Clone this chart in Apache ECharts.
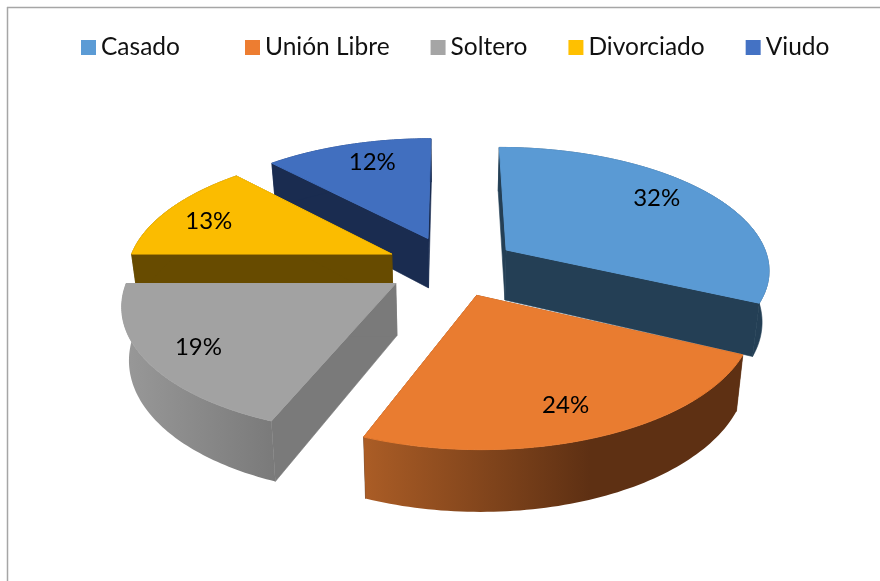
<!DOCTYPE html>
<html>
<head>
<meta charset="utf-8">
<title>Estado civil</title>
<script src="https://cdn.jsdelivr.net/npm/echarts@6/dist/echarts.min.js"></script>
<style>
  html, body { margin: 0; padding: 0; background: #fff; }
  #chart { width: 880px; height: 581px; }
</style>
</head>
<body>
<div id="chart"></div>
<script>
// datos
var categories = ['Casado', 'Unión Libre', 'Soltero', 'Divorciado', 'Viudo'];
var values = [32, 24, 19, 13, 12];

// estilo de cada porción
var legendColors = ['#5B9BD5', '#ED7D31', '#A5A5A5', '#FFC000', '#4472C4'];
var topColors = ['#5A9AD4', '#E97C30', '#A2A2A2', '#FBBC00', '#416FBF'];
var sideColors = ['#243F55', '#5E3013', '#7A7A7A', '#674B00', '#1A2C50'];
var labelRadius = 0.8;
var labelNudge = [[-11, -4], [-5, 0], [-2, 2], [-3, 3], [10, 0]];
var drawOrder = [4, 3, 0, 2, 1];

// proyección en perspectiva del disco
var cx = 451.5, cy = 266, R = 264, Ry = 122, p = 0.147, H = 51, explode = 0.25;
var total = values.reduce(function (a, b) { return a + b; }, 0);

function project(u, v, z) {
  var w = 1 + p * v;
  return [cx + R * u / w * (1 - z * 0.022), cy - Ry * v / w + z * H / w];
}

function sliceAngles(i) {
  var before = 0;
  for (var k = 0; k < i; k++) before += values[k];
  return [before / total * Math.PI * 2, (before + values[i]) / total * Math.PI * 2];
}

function outerFill(i) {
  if (i === 1) {
    return new echarts.graphic.LinearGradient(363, 0, 590, 0, [
      { offset: 0, color: '#AB5D26' },
      { offset: 1, color: '#5E3013' }
    ], true);
  }
  if (i === 2) {
    return new echarts.graphic.LinearGradient(125, 0, 275, 0, [
      { offset: 0, color: '#989898' },
      { offset: 1, color: '#7A7A7A' }
    ], true);
  }
  return sideColors[i];
}

function renderSlice(i) {
  return function (params, api) {
    var a = sliceAngles(i);
    var mid = (a[0] + a[1]) / 2;
    var ox = explode * Math.sin(mid), oy = explode * Math.cos(mid);
    var topArc = [], bottomArc = [];
    var steps = 72;
    for (var s = 0; s <= steps; s++) {
      var t = a[0] + (a[1] - a[0]) * s / steps;
      topArc.push(project(ox + Math.sin(t), oy + Math.cos(t), 0));
      bottomArc.push(project(ox + Math.sin(t), oy + Math.cos(t), 1));
    }
    var apexTop = project(ox, oy, 0), apexBottom = project(ox, oy, 1);
    var lp = project(ox + labelRadius * Math.sin(mid), oy + labelRadius * Math.cos(mid), 0);

    function poly(points, fill, seam) {
      return {
        type: 'polygon',
        shape: { points: points },
        style: { fill: fill, stroke: seam ? fill : null, lineWidth: seam || 0 }
      };
    }
    return {
      type: 'group',
      children: [
        poly([apexTop, topArc[0], bottomArc[0], apexBottom], sideColors[i], 0.6),
        poly([apexTop, topArc[steps], bottomArc[steps], apexBottom], sideColors[i], 0.6),
        poly(topArc.concat(bottomArc.slice().reverse()), outerFill(i), (i !== 1 && i !== 2) ? 0.6 : 0),
        poly([apexTop].concat(topArc), topColors[i], 1),
        {
          type: 'text',
          style: {
            x: lp[0] + labelNudge[i][0], y: lp[1] + labelNudge[i][1],
            text: Math.round(api.value(0) / total * 100) + '%',
            fill: '#000',
            font: '24px Lato',
            align: 'center',
            verticalAlign: 'middle'
          }
        }
      ]
    };
  };
}

function legendAt(left, names) {
  return {
    data: names,
    left: left,
    top: 30,
    icon: 'rect',
    itemWidth: 15,
    itemHeight: 15,
    itemGap: 41,
    selectedMode: false,
    textStyle: { color: '#111', fontFamily: 'Lato', fontSize: 24.5 }
  };
}

var chart = echarts.init(document.getElementById('chart'), null, { renderer: 'canvas' });

chart.setOption({
  animation: false,
  backgroundColor: '#fff',
  legend: [legendAt(76, categories.slice(0, 1)), legendAt(240, categories.slice(1))],
  graphic: [
    { type: 'line', shape: { x1: 7.5, y1: 7, x2: 7.5, y2: 581 }, style: { stroke: '#A6A6A6', lineWidth: 1.5 } },
    { type: 'line', shape: { x1: 7, y1: 7.5, x2: 880, y2: 7.5 }, style: { stroke: '#A6A6A6', lineWidth: 1.5 } }
  ],
  series: drawOrder.map(function (i) {
    return {
      type: 'custom',
      name: categories[i],
      coordinateSystem: 'none',
      silent: true,
      itemStyle: { color: legendColors[i] },
      renderItem: renderSlice(i),
      data: [values[i]]
    };
  })
});
</script>
</body>
</html>
